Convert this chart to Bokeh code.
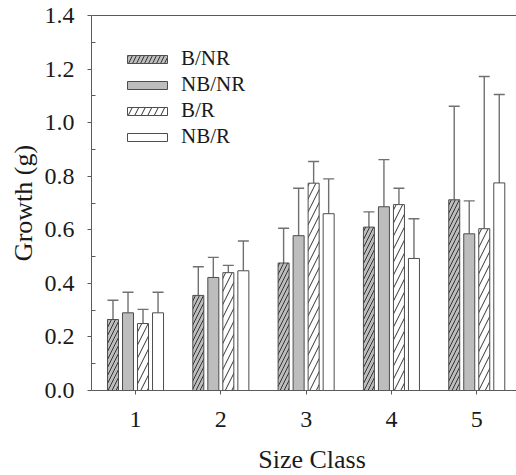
import numpy as np
from bokeh.plotting import figure
from bokeh.models import (Range1d, FixedTicker, PrintfTickFormatter, LinearAxis,
                          ColumnDataSource, Whisker, TeeHead, Label)
from bokeh.embed import file_html
from bokeh.resources import INLINE

# ---- data ----
size_classes = [1, 2, 3, 4, 5]
series_names = ["B/NR", "NB/NR", "B/R", "NB/R"]
b_nr = [0.265, 0.355, 0.476, 0.610, 0.712]
b_nr_err = [0.072, 0.107, 0.130, 0.057, 0.349]
nb_nr = [0.290, 0.422, 0.578, 0.686, 0.585]
nb_nr_err = [0.077, 0.075, 0.177, 0.176, 0.123]
b_r = [0.250, 0.440, 0.774, 0.694, 0.604]
b_r_err = [0.053, 0.027, 0.081, 0.061, 0.568]
nb_r = [0.290, 0.447, 0.660, 0.493, 0.775]
nb_r_err = [0.077, 0.111, 0.130, 0.148, 0.330]
y_major_ticks = [0.0, 0.2, 0.4, 0.6, 0.8, 1.0, 1.2, 1.4]
y_minor_ticks = [0.1, 0.3, 0.5, 0.7, 0.9, 1.1, 1.3]
x_title = "Size Class"
y_title = "Growth (g)"

FONT = "Liberation Serif"
TEXT = "#1a1a1a"
AX = "#5a5a5a"
ERR = "#707070"

p = figure(width=516, height=475, x_range=Range1d(0.484, 5.466),
           y_range=Range1d(y_major_ticks[0], y_major_ticks[-1]),
           output_backend="svg", toolbar_location=None,
           min_border_left=91, min_border_top=15, min_border_right=0, min_border_bottom=85)
p.outline_line_color = None
p.grid.visible = False
p.background_fill_color = "white"
p.border_fill_color = "white"

offsets = [-0.264, -0.088, 0.088, 0.264]
bar_w = 0.129
styles = [
    dict(fill_color="#bdbdbd", hatch_pattern="/", hatch_color="#333333", hatch_scale=8, hatch_weight=1),
    dict(fill_color="#bdbdbd"),
    dict(fill_color="white", hatch_pattern="/", hatch_color="#333333", hatch_scale=13, hatch_weight=1),
    dict(fill_color="white"),
]
vals_list = [b_nr, nb_nr, b_r, nb_r]
errs_list = [b_nr_err, nb_nr_err, b_r_err, nb_r_err]

for name, off, st, vals, errs in zip(series_names, offsets, styles, vals_list, errs_list):
    xs = np.array(size_classes, dtype=float) + off
    v = np.array(vals)
    e = np.array(errs)
    src = ColumnDataSource(dict(x=xs, top=v, upper=v + e))
    p.vbar(x="x", top="top", bottom=0, width=bar_w, source=src, line_color="#4d4d4d",
           line_width=1, legend_label=name, **st)
    w = Whisker(base="x", upper="upper", lower="top", source=src, dimension="height",
                line_color=ERR, line_width=1.4,
                upper_head=TeeHead(size=11, line_color=ERR, line_width=1.4), lower_head=None)
    p.add_layout(w)

xa = p.below[0]
ya = p.left[0]

# top border line (axis line only)
top_ax = LinearAxis(ticker=FixedTicker(ticks=[], minor_ticks=[]), axis_line_color=AX,
                    major_tick_out=0, major_tick_in=0, minor_tick_out=0, minor_tick_in=0,
                    major_label_standoff=0, major_label_text_font_size="0px")
p.add_layout(top_ax, "above")

xa.ticker = FixedTicker(ticks=size_classes, minor_ticks=[])
ya.ticker = FixedTicker(ticks=y_major_ticks, minor_ticks=y_minor_ticks)
ya.formatter = PrintfTickFormatter(format="%.1f")
ya.axis_label = y_title
ya.minor_tick_in = 4
ya.minor_tick_out = 0
for a in (xa, ya):
    a.axis_line_color = AX
    a.major_tick_line_color = AX
    a.minor_tick_line_color = AX
    a.major_tick_in = 0
    a.major_tick_out = 4
    a.major_label_text_font = FONT
    a.major_label_text_font_size = "24px"
    a.major_label_text_color = TEXT
    a.axis_label_text_font = FONT
    a.axis_label_text_font_size = "26px"
    a.axis_label_text_font_style = "normal"
    a.axis_label_text_color = TEXT
xa.major_label_standoff = 17
ya.major_label_standoff = 13
ya.axis_label_standoff = 4

# x-axis title as a label in the bottom border
p.add_layout(Label(x=3.069, y=-0.2576, text=x_title, text_align="center",
                   text_baseline="alphabetic", text_font=FONT, text_font_size="26px",
                   text_color=TEXT), "below")

lg = p.legend[0]
lg.location = "top_left"
lg.margin = 31
lg.padding = 0
lg.border_line_color = None
lg.background_fill_alpha = 0
lg.glyph_width = 50
lg.glyph_height = 10
lg.label_standoff = 9
lg.label_text_font = FONT
lg.label_text_font_size = "21px"
lg.label_text_color = TEXT
lg.label_height = 20
lg.spacing = 1

open("out.html", "w").write(file_html(p, INLINE))
